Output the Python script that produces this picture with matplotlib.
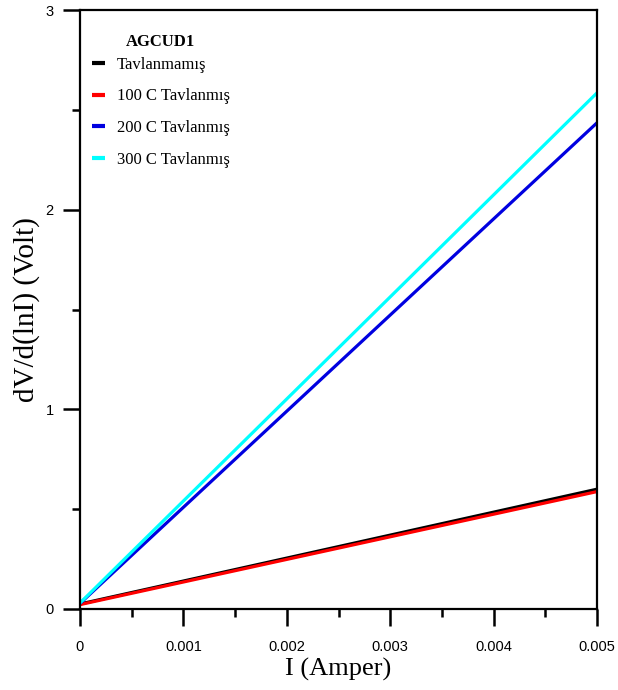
import numpy as np
import matplotlib.pyplot as plt
from matplotlib.ticker import MultipleLocator

# current values (Amper) and dV/d(lnI) endpoints
current = [0.0, 0.005]
untreated = [0.025, 0.600]
annealed_100 = [0.022, 0.588]
annealed_200 = [0.028, 2.435]
annealed_300 = [0.030, 2.585]

labels = ['Tavlanmamış', '100 C Tavlanmış', '200 C Tavlanmış', '300 C Tavlanmış']
colors = ['#000000', '#ff0000', '#0000e0', '#00ffff']
series = [untreated, annealed_100, annealed_200, annealed_300]

xticks = [0, 0.001, 0.002, 0.003, 0.004, 0.005]
xticklabels = ['0', '0.001', '0.002', '0.003', '0.004', '0.005']
yticks = [0, 1, 2, 3]

fig = plt.figure(figsize=(6.18, 6.9), dpi=100)
ax = fig.add_axes([80 / 618, 81 / 690, 517 / 618, 599 / 690])

for y, c, lab in zip(series, colors, labels):
    ax.plot(current, y, color=c, lw=2.3, label=lab, solid_capstyle='butt')

ax.set_xlim(0, 0.005)
ax.set_ylim(0, 3)
ax.set_xticks(xticks)
ax.set_xticklabels(xticklabels)
ax.xaxis.set_minor_locator(MultipleLocator(0.0005))
ax.set_yticks(yticks)
ax.set_yticklabels([str(v) for v in yticks])
ax.yaxis.set_minor_locator(MultipleLocator(0.5))

for sp in ax.spines.values():
    sp.set_linewidth(1.6)
ax.tick_params(which='major', direction='out', length=12, width=1.8,
               labelsize=10.5, pad=7)
ax.tick_params(axis='x', which='major', pad=10)
ax.tick_params(which='minor', direction='out', length=6, width=1.8)
ax.tick_params(axis='both', which='both', top=False, right=False)
for t in ax.get_xticklabels() + ax.get_yticklabels():
    t.set_fontfamily('Liberation Sans')

ax.set_xlabel('I (Amper)', fontsize=19, fontfamily='Liberation Serif', labelpad=3)
ax.set_ylabel('dV/d(lnI) (Volt)', fontsize=21, fontfamily='Liberation Serif', labelpad=4)

leg = ax.legend(loc='upper left', bbox_to_anchor=(0.0, 0.98), frameon=False,
                title='AGCUD1', handlelength=0.8, handletextpad=0.7,
                labelspacing=0.95, borderaxespad=0.3,
                prop={'family': 'Liberation Serif', 'size': 12},
                title_fontproperties={'family': 'Liberation Serif', 'size': 12,
                                      'weight': 'bold'})
leg._legend_box.sep = 5
for h in leg.get_lines():
    h.set_linewidth(3)

plt.savefig('out.png', dpi=100)
